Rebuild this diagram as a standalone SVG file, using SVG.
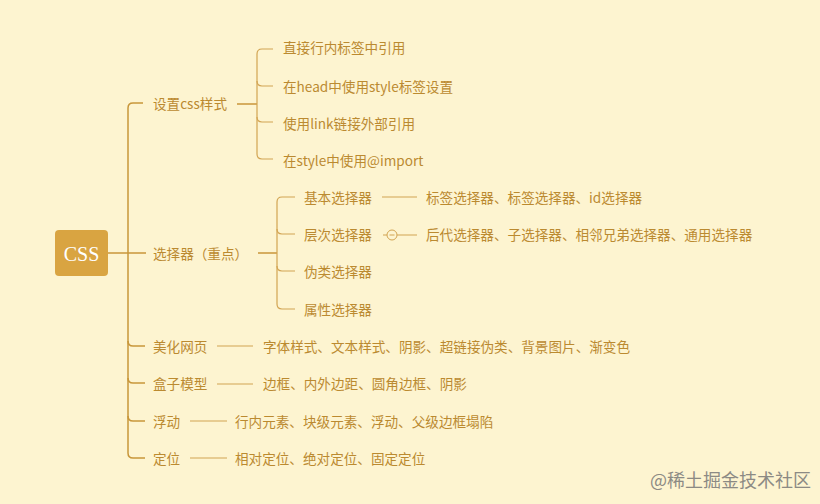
<svg xmlns="http://www.w3.org/2000/svg" width="820" height="504" viewBox="0 0 820 504">
<style>
.t{font-family:"Noto Sans CJK SC","Noto Sans",sans-serif;font-size:13.6px;fill:#bb8a30;dominant-baseline:central}
.m{fill:none;stroke:#c8963a;stroke-width:1.5}
.s{fill:none;stroke:#d2a452;stroke-width:1.2}
.wm{font-family:"Noto Sans CJK SC",sans-serif;font-size:18px;fill:#8c8a84}
</style>
<rect width="820" height="504" fill="#fdf4d0"/>
<g id="connectors">
<path class="m" d="M108,253 H146"/>
<path class="m" d="M143,103 H133 Q128,103 128,108 V453 Q128,458 133,458 H145"/>
<path class="m" d="M128,341 Q128,346 133,346 H145"/>
<path class="m" d="M128,378 Q128,383 133,383 H145"/>
<path class="m" d="M128,416 Q128,421 133,421 H145"/>
<path class="m" d="M237,104 H257"/>
<path class="s" d="M273,49 H262 Q257,49 257,54 V154 Q257,159 262,159 H273"/>
<path class="s" d="M257,81 Q257,86 262,86 H273"/>
<path class="s" d="M257,117 Q257,122 262,122 H273"/>
<path class="m" d="M258,253 H277"/>
<path class="s" d="M295,197 H282 Q277,197 277,202 V304 Q277,309 282,309 H295"/>
<path class="s" d="M277,229 Q277,234 282,234 H295"/>
<path class="s" d="M277,266 Q277,271 282,271 H295"/>
<path class="s" d="M382,197 H417"/>
<path class="s" d="M383,235 H387 M397,235 H417"/>
<circle cx="392" cy="235" r="5" fill="#fdf4d0" stroke="#d2a452" stroke-width="1"/>
<path d="M389.5,235 H394.5" stroke="#d2a452" stroke-width="1"/>
<path class="s" d="M217,346 H253"/>
<path class="s" d="M217,384 H253"/>
<path class="s" d="M190,421 H227"/>
<path class="s" d="M190,458 H227"/>
</g>
<g id="root">
<rect x="55" y="230" width="53" height="46" rx="4" fill="#d9a441"/>
<text x="81.5" y="254" text-anchor="middle" font-family="Liberation Serif,serif" font-size="20" fill="#ffffff" dominant-baseline="central">CSS</text>
</g>
<g id="n-setcss"><text class="t" x="153" y="103">设置css样式</text></g>
<g id="n-inline"><text class="t" x="283" y="47">直接行内标签中引用</text></g>
<g id="n-head"><text class="t" x="283" y="86">在head中使用style标签设置</text></g>
<g id="n-link"><text class="t" x="283" y="123">使用link链接外部引用</text></g>
<g id="n-import"><text class="t" x="283" y="160">在style中使用@import</text></g>
<g id="n-selector"><text class="t" x="153" y="253">选择器（重点）</text></g>
<g id="n-basic"><text class="t" x="304" y="197">基本选择器</text></g>
<g id="n-basic-d"><text class="t" x="426" y="197">标签选择器、标签选择器、id选择器</text></g>
<g id="n-level"><text class="t" x="304" y="234">层次选择器</text></g>
<g id="n-level-d"><text class="t" x="426" y="234">后代选择器、子选择器、相邻兄弟选择器、通用选择器</text></g>
<g id="n-pseudo"><text class="t" x="304" y="271">伪类选择器</text></g>
<g id="n-attr"><text class="t" x="304" y="309">属性选择器</text></g>
<g id="n-beauty"><text class="t" x="153" y="346">美化网页</text></g>
<g id="n-beauty-d"><text class="t" x="263" y="346">字体样式、文本样式、阴影、超链接伪类、背景图片、渐变色</text></g>
<g id="n-box"><text class="t" x="153" y="383">盒子模型</text></g>
<g id="n-box-d"><text class="t" x="263" y="383">边框、内外边距、圆角边框、阴影</text></g>
<g id="n-float"><text class="t" x="153" y="421">浮动</text></g>
<g id="n-float-d"><text class="t" x="235" y="421">行内元素、块级元素、浮动、父级边框塌陷</text></g>
<g id="n-pos"><text class="t" x="153" y="458">定位</text></g>
<g id="n-pos-d"><text class="t" x="235" y="458">相对定位、绝对定位、固定定位</text></g>
<text class="wm" x="650" y="487">@稀土掘金技术社区</text>
</svg>
